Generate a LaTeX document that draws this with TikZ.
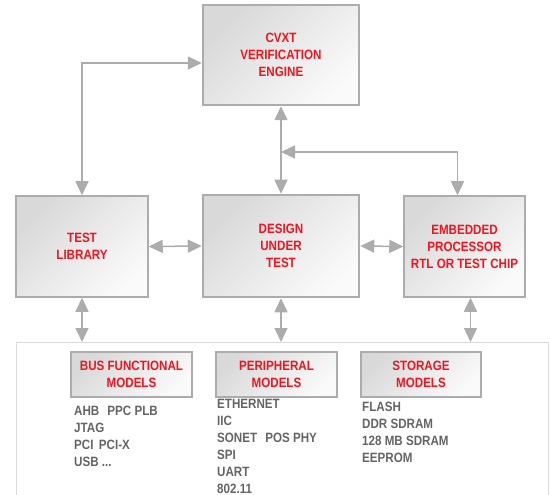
\documentclass[tikz,border=0pt]{standalone}
\usepackage{fontspec}
\newfontfamily\boxfont[FakeStretch=0.86]{Liberation Sans}
\usetikzlibrary{arrows.meta}
\definecolor{boxred}{RGB}{240,20,30}
\definecolor{linegray}{RGB}{172,172,172}
\definecolor{listgray}{RGB}{100,100,100}
\definecolor{panelgray}{RGB}{218,218,218}
\begin{document}
\begin{tikzpicture}[x=1pt, y=-1pt,
  box/.style={draw=linegray, line width=1.5pt, top color=black!15, bottom color=black!2, shading angle=45, text=boxred, font=\boxfont\bfseries\fontsize{13.5}{17}\selectfont, align=center, inner sep=0pt},
  bigbox/.style={box, line width=2.5pt},
  list/.style={anchor=north west, text=listgray, font=\boxfont\bfseries\fontsize{13.5}{17}\selectfont, align=left, inner sep=0pt},
  link/.style={{Triangle[width=13pt,length=14pt]}-{Triangle[width=13pt,length=14pt]}, draw=linegray, line width=1.5pt}]
\useasboundingbox (0,0) rectangle (550,495);

\node[bigbox, minimum width=156pt, minimum height=100pt] at (281,55)(cvxt) {CVXT\\VERIFICATION\\ENGINE};
\node[box, minimum width=132pt, minimum height=101pt] at (82,246.5)(lib) {TEST\\LIBRARY};
\node[bigbox, minimum width=156pt, minimum height=102pt] at (281,246)(dut) {DESIGN\\UNDER\\TEST};
\node[box, minimum width=121pt, minimum height=101pt] at (464.5,246.5)(proc) {EMBEDDED\\PROCESSOR\\RTL OR TEST CHIP};

% panel of models
\draw[panelgray, line width=1pt] (16,496) |- (548,342) -- (548,496);
\coordinate (ptop) at (0,342);
\coordinate (fork) at (281,152);

\node[box, minimum width=121pt, minimum height=45pt] at (131.5,374.5)(bfm) {BUS FUNCTIONAL\\MODELS};
\node[box, minimum width=121pt, minimum height=45pt] at (276.5,374.5)(per) {PERIPHERAL\\MODELS};
\node[box, minimum width=120pt, minimum height=45pt] at (421,374.5)(stor) {STORAGE\\MODELS};

\node[list] at (74,405.5)(bfmlist) {AHB\hspace{0.6em}PPC PLB\\JTAG\\PCI\hspace{0.4em}PCI-X\\USB ...};
\node[list] at (217,399)(perlist) {ETHERNET\\IIC\\SONET\hspace{0.6em}POS PHY\\SPI\\UART\\802.11};
\node[list] at (362,401.5)(storlist) {FLASH\\DDR SDRAM\\128 MB SDRAM\\EEPROM};

\draw[link] (lib.north) |- ([yshift=-8pt]cvxt.west);
\draw[link] (cvxt.south) -- (dut.north);
\draw[link] (fork) -| ([xshift=-7pt]proc.north);
\draw[link] (lib.east) -- (dut.west);
\draw[link] (dut.east) -- (proc.west);
\draw[link] (lib.south) -- (lib.south |- ptop);
\draw[link] (dut.south) -- (dut.south |- ptop);
\draw[link] ([xshift=6pt]proc.south) -- ([xshift=6pt]proc.south |- ptop);
\end{tikzpicture}
\end{document}
